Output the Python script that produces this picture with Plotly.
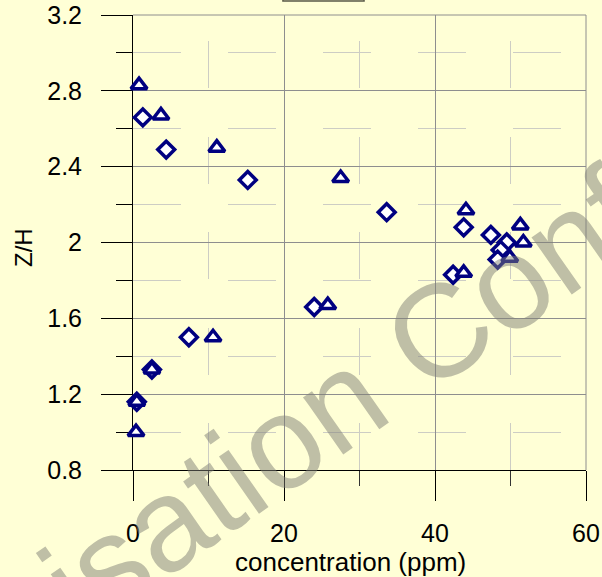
import plotly.graph_objects as go

# Z/H versus concentration, two sample series
diamond_conc = [1.3, 4.4, 15.2, 33.6, 43.8, 47.4, 49.5, 48.7, 48.3, 42.4, 24.0, 7.4, 2.5, 0.5]
diamond_zh = [2.66, 2.49, 2.33, 2.16, 2.08, 2.04, 2.00, 1.96, 1.91, 1.83, 1.66, 1.50, 1.33, 1.16]

triangle_conc = [0.8, 3.7, 11.1, 27.5, 44.1, 51.3, 51.7, 49.9, 43.8, 25.8, 10.6, 2.5, 0.5, 0.4]
triangle_zh = [2.83, 2.67, 2.50, 2.34, 2.17, 2.09, 2.00, 1.92, 1.84, 1.67, 1.50, 1.33, 1.16, 1.00]

x_ticks = [0, 20, 40, 60]
y_ticks = [0.8, 1.2, 1.6, 2.0, 2.4, 2.8, 3.2]
y_tick_text = ["0.8", "1.2", "1.6", "2", "2.4", "2.8", "3.2"]

BG = "#FFFFD6"
NAVY = "#000080"
FONT = "Liberation Sans, Arial, sans-serif"

fig = go.Figure()
fig.add_trace(go.Scatter(
    x=diamond_conc, y=diamond_zh, mode="markers",
    marker=dict(symbol="diamond", size=13, color="white",
                line=dict(color=NAVY, width=3.5)),
    showlegend=False, cliponaxis=False,
))
fig.add_trace(go.Scatter(
    x=triangle_conc, y=triangle_zh, mode="markers",
    marker=dict(symbol="triangle-up", size=14, color="white",
                line=dict(color=NAVY, width=3.5)),
    showlegend=False, cliponaxis=False,
))

minor_grid = "#CDCDC4"
major_grid = "#8E8E8E"

fig.update_xaxes(
    range=[0, 60], tickvals=x_ticks, ticktext=[str(v) for v in x_ticks],
    showline=True, linecolor="black", linewidth=1,
    ticks="outside", ticklen=30, tickcolor="black", tickwidth=1,
    showgrid=True, gridcolor=major_grid, gridwidth=1,
    zeroline=False, layer="below traces", automargin=False,
    tickfont=dict(family=FONT, size=25, color="black"),
    ticklabelstandoff=11,
    minor=dict(tick0=10, dtick=20, ticks="outside", ticklen=15,
               tickcolor="#333333", tickwidth=1, showgrid=True,
               gridcolor=minor_grid, gridwidth=1,
               griddash="0px,26px,47px,49px,47px,48px,47px,49px,47px,48px,47px"),
)
fig.update_yaxes(
    range=[0.8, 3.2], tickvals=y_ticks, ticktext=y_tick_text,
    showline=True, linecolor="black", linewidth=1,
    ticks="outside", ticklen=31, tickcolor="black", tickwidth=1,
    showgrid=True, gridcolor=major_grid, gridwidth=1,
    zeroline=False, layer="below traces", automargin=False,
    tickfont=dict(family=FONT, size=25, color="black"),
    ticklabelstandoff=14,
    minor=dict(tick0=1.0, dtick=0.4, ticks="outside", ticklen=16,
               tickcolor="black", tickwidth=1, showgrid=True,
               gridcolor=minor_grid, gridwidth=1, griddash="48px,47px"),
)

fig.update_layout(
    width=602, height=577,
    margin=dict(l=133, r=16, t=15, b=107, autoexpand=False),
    paper_bgcolor=BG, plot_bgcolor=BG,
    font=dict(family=FONT, color="black"),
    shapes=[
        # legend frame peeking in above the plot
        dict(type="rect", xref="paper", yref="paper",
             x0=0.331, x1=0.51, y0=1.031, y1=1.06,
             line=dict(color="#5A5A48", width=1.5), fillcolor="#F4F4CC"),
        # gray frame on the top and right edges of the plot area
        dict(type="line", xref="paper", yref="paper", x0=0, x1=1, y0=1, y1=1,
             line=dict(color=major_grid, width=1), layer="below"),
        dict(type="line", xref="paper", yref="paper", x0=1, x1=1, y0=0, y1=1,
             line=dict(color=major_grid, width=1), layer="below"),
    ],
    annotations=[
        dict(text="concentration (ppm)", xref="paper", yref="paper",
             x=0.48, y=-0.202, xanchor="center", yanchor="middle",
             showarrow=False, font=dict(family=FONT, size=26, color="black")),
        dict(text="Z/H", xref="paper", yref="paper",
             x=-0.2406, y=0.488, xanchor="center", yanchor="middle",
             textangle=-90, showarrow=False,
             font=dict(family=FONT, size=24, color="black")),
        dict(text="Organisation Confidential", xref="paper", yref="paper",
             x=0.51, y=0.187, xanchor="center", yanchor="middle",
             textangle=-35, showarrow=False,
             font=dict(family=FONT, size=132, color="rgba(128,128,118,0.5)")),
    ],
)

fig.write_html("out.html")
